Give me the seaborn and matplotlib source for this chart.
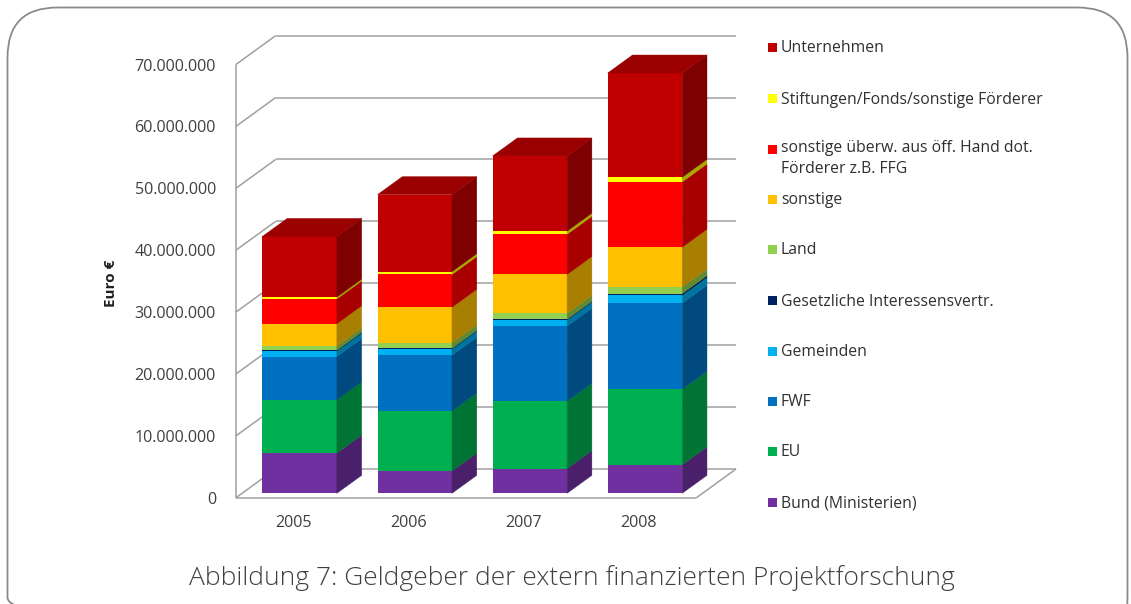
import matplotlib
matplotlib.use("Agg")
import matplotlib.pyplot as plt
import matplotlib.transforms as mtransforms
from matplotlib.patches import Polygon, Rectangle, FancyBboxPatch
from matplotlib.colors import to_rgb
import numpy as np
import seaborn as sns

# ---------------- data ----------------
years = ["2005", "2006", "2007", "2008"]

bund = [6.5e6, 3.6e6, 4.0e6, 4.6e6]
eu = [8.6e6, 9.7e6, 10.9e6, 12.2e6]
fwf = [7.0e6, 9.0e6, 12.1e6, 13.9e6]
gemeinden = [0.9e6, 1.0e6, 1.0e6, 1.3e6]
gesetzliche = [0.1e6, 0.1e6, 0.1e6, 0.25e6]
land = [0.7e6, 0.9e6, 0.95e6, 1.05e6]
sonstige = [3.6e6, 5.75e6, 6.3e6, 6.45e6]
sonstige_oeff = [4.0e6, 5.3e6, 6.5e6, 10.55e6]
stiftungen = [0.3e6, 0.45e6, 0.5e6, 0.75e6]
unternehmen = [9.8e6, 12.45e6, 12.15e6, 16.85e6]

series_labels = [
    "Bund (Ministerien)",
    "EU",
    "FWF",
    "Gemeinden",
    "Gesetzliche Interessensvertr.",
    "Land",
    "sonstige",
    "sonstige überw. aus öff. Hand dot.\nFörderer z.B. FFG",
    "Stiftungen/Fonds/sonstige Förderer",
    "Unternehmen",
]
series_values = [bund, eu, fwf, gemeinden, gesetzliche, land, sonstige,
                 sonstige_oeff, stiftungen, unternehmen]
series_colors = ["#7030A0", "#00B050", "#0070C0", "#00B0F0", "#002060",
                 "#92D050", "#FFC000", "#FF0000", "#FFFF00", "#C00000"]

ytick_values = [0, 10e6, 20e6, 30e6, 40e6, 50e6, 60e6, 70e6]
ytick_labels = ["0", "10.000.000", "20.000.000", "30.000.000", "40.000.000",
                "50.000.000", "60.000.000", "70.000.000"]
y_axis_label = "Euro €"
caption = "Abbildung 7: Geldgeber der extern finanzierten Projektforschung"

# ---------------- style ----------------
sns.set_theme(style="white")
plt.rcParams["font.family"] = ["Open Sans", "DejaVu Sans"]
TXT = "#404040"

W, H = 1131, 604
fig = plt.figure(figsize=(W / 100, H / 100), dpi=100)
fig.patch.set_facecolor("white")

# overlay in pixel coordinates (border, legend, caption)
bg = fig.add_axes([0, 0, 1, 1], zorder=0)
bg.set_xlim(0, W)
bg.set_ylim(H, 0)
bg.axis("off")

# main axes: data plane = front face of the bars
ax = fig.add_axes([242.1 / W, (H - 493.3) / H, 460.4 / W, 433.3 / H], zorder=1)
ax.patch.set_alpha(0)

ymax = ytick_values[-1]
DX = 40 / 115.1                 # category units per unit depth
DY = 29 * ymax / 433.3          # value units per unit depth
Z_FRONT, Z_BACK = -0.16, 0.84   # walls relative to bar front plane
BAR_DEPTH = 0.62
BAR_W = 0.647


def shade(c, f):
    r, g, b = to_rgb(c)
    return (r * f, g * f, b * f)


# walls / gridlines
grid_kw = dict(color="#a0a0a0", lw=1.1, zorder=1, clip_on=False, solid_capstyle="butt")
xl, xr = -0.5, len(years) - 0.5
for v in ytick_values:
    ax.plot([xl + Z_FRONT * DX, xl + Z_BACK * DX], [v + Z_FRONT * DY, v + Z_BACK * DY], **grid_kw)
    ax.plot([xl + Z_BACK * DX, xr + Z_BACK * DX], [v + Z_BACK * DY, v + Z_BACK * DY], **grid_kw)
ax.plot([xl + Z_FRONT * DX] * 2, [Z_FRONT * DY, ymax + Z_FRONT * DY], **grid_kw)
ax.plot([xl + Z_FRONT * DX, xr + Z_FRONT * DX], [Z_FRONT * DY] * 2, **grid_kw)
ax.plot([xr + Z_FRONT * DX, xr + Z_BACK * DX], [Z_FRONT * DY, Z_BACK * DY], **grid_kw)

# front faces with seaborn (cumulative, top layer first)
vals = np.array(series_values, dtype=float)
cum = np.cumsum(vals, axis=0)
bottoms = np.vstack([np.zeros(len(years)), cum[:-1]])
for k in range(len(series_values) - 1, -1, -1):
    sns.barplot(x=years, y=cum[k], color=series_colors[k], saturation=1,
                width=BAR_W, errorbar=None, ax=ax, linewidth=0, zorder=3)

# side and top faces
for i in range(len(years)):
    x0, x1 = i - BAR_W / 2, i + BAR_W / 2
    ddx, ddy = BAR_DEPTH * DX, BAR_DEPTH * DY
    for k in range(len(series_values)):
        y0, y1 = bottoms[k, i], cum[k, i]
        sc = shade(series_colors[k], 0.66)
        ax.add_patch(Polygon([(x1, y0), (x1 + ddx, y0 + ddy), (x1 + ddx, y1 + ddy), (x1, y1)],
                             closed=True, fc=sc, ec=sc, lw=0.3, zorder=3, clip_on=False))
    T = cum[-1, i]
    tc = shade(series_colors[-1], 0.80)
    ax.add_patch(Polygon([(x0, T), (x1, T), (x1 + ddx, T + ddy), (x0 + ddx, T + ddy)],
                         closed=True, fc=tc, ec=tc, lw=0.3, zorder=3, clip_on=False))

ax.set_xlim(xl, xr)
ax.set_ylim(0, ymax)
ax.set_yticks(ytick_values, ytick_labels)
ax.tick_params(axis="y", length=0, pad=18.8, labelsize=11.6, labelcolor=TXT)
ax.tick_params(axis="x", length=0, pad=15.5, labelsize=11.6, labelcolor=TXT)
for s in ax.spines.values():
    s.set_visible(False)
ax.grid(False)
ax.set_xlabel("")
ax.set_ylabel(y_axis_label, fontsize=11, fontweight="bold", color="#202020")
ax.yaxis.set_label_coords(-0.2685, 0.4847)

off_y = mtransforms.ScaledTranslation(0, -4.6 / 100, fig.dpi_scale_trans)
for lab in ax.get_yticklabels():
    lab.set_transform(lab.get_transform() + off_y)
off_x = mtransforms.ScaledTranslation(-6.4 / 100, 0, fig.dpi_scale_trans)
for lab in ax.get_xticklabels():
    lab.set_transform(lab.get_transform() + off_x)

# legend (top to bottom, reversed stack order)
leg_y = [47, 98, 149, 199, 249, 300, 351, 401, 451, 502]
for j, k in enumerate(range(len(series_values) - 1, -1, -1)):
    y = leg_y[j]
    bg.add_patch(Rectangle((768, y - 4.5), 9, 9, fc=series_colors[k], ec="none"))
    if "\n" in series_labels[k]:
        bg.text(781, y - 8.5, series_labels[k], ha="left", va="top", fontsize=11.3,
                color="#303030", linespacing=1.38)
    else:
        bg.text(781, y + 1.5, series_labels[k], ha="left", va="center", fontsize=11.3,
                color="#303030")

# rounded border
bg.add_patch(FancyBboxPatch((7.5, 7.5), 1120, 640, boxstyle="round,pad=0,rounding_size=50",
                            fc="none", ec="#8a8a8a", lw=1.3))

# caption
bg.text(572, 578, caption, ha="center", va="center", fontsize=19, color=TXT,
        fontweight="light")

fig.savefig("out.png", dpi=100, facecolor="white")
